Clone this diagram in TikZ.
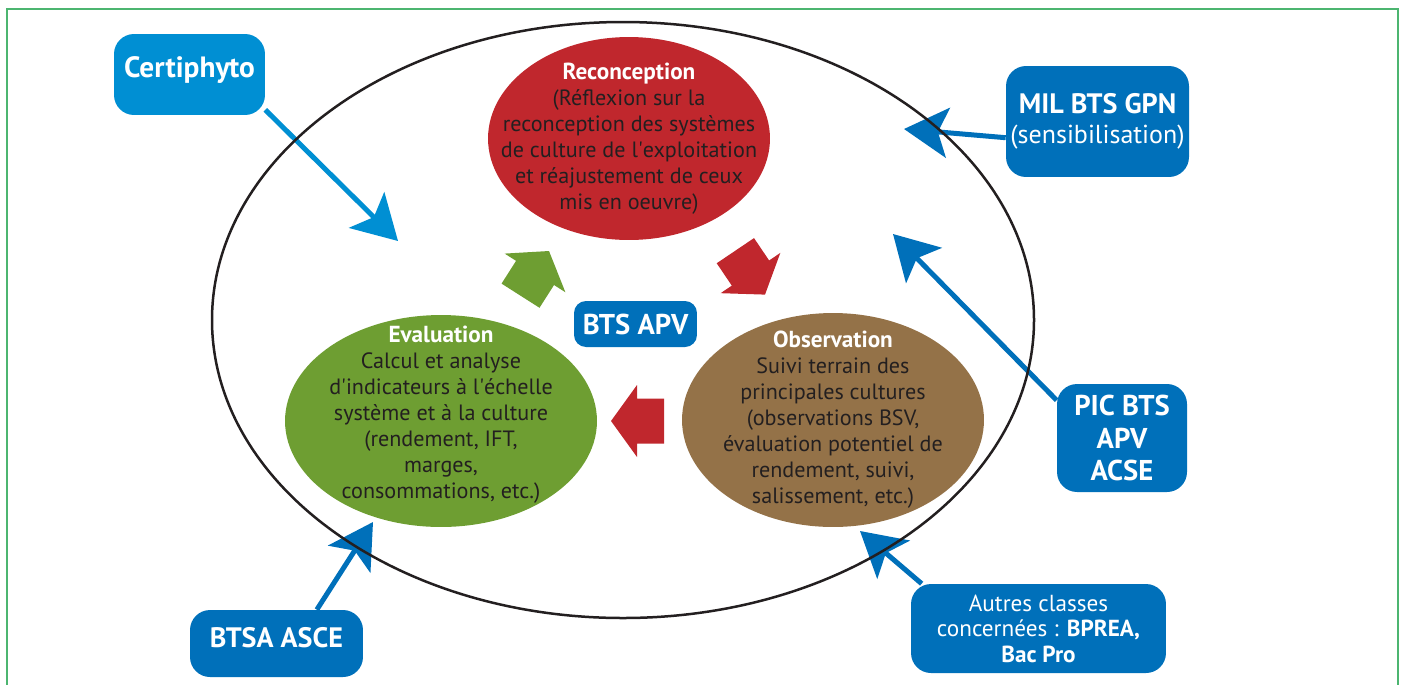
\documentclass[tikz,border=0pt]{standalone}
\usepackage{fontspec}
\setmainfont{PT Sans}
\usetikzlibrary{shapes.geometric,arrows.meta}
\pgfdeclarelayer{bg}
\pgfsetlayers{bg,main}
\definecolor{framegreen}{RGB}{76,181,112}
\definecolor{phasered}{RGB}{192,39,45}
\definecolor{phasegreen}{RGB}{110,158,50}
\definecolor{phasebrown}{RGB}{148,114,72}
\definecolor{boxblue}{RGB}{0,112,186}
\definecolor{certblue}{RGB}{0,143,211}
\definecolor{inktext}{RGB}{35,31,32}
\newcommand{\phasetitle}[1]{{\color{white}\bfseries\fontsize{13.2}{14.8}\selectfont #1}}

\begin{document}
\begin{tikzpicture}[x=0.02cm, y=-0.02cm,
    phase/.style={ellipse, inner sep=0pt},
    phasetext/.style={align=center, text=inktext, font=\fontsize{12.6}{14.8}\selectfont},
    classbox/.style={fill=boxblue, rounded corners=0.4cm, text=white, align=center, inner sep=0pt},
    feed/.style={boxblue, line width=0.1cm, -{Stealth[length=0.88cm, width=1cm, inset=0.2cm]}},
    cyclestep/.pic={\fill (0,0) -- (-26,36) -- (-26,22.5) -- (-53,22.5) -- (-53,-22.5) -- (-26,-22.5) -- (-26,-36) -- cycle;}]

    \useasboundingbox (0,0) rectangle (1402,684);
    \draw[framegreen, line width=0.03cm] (7,9) rectangle (1398,700);

    % the three phases
    \node[phase, fill=phasered, minimum width=5.64cm, minimum height=4.06cm] (reconc) at (629,138.5) {};
    \node[phasetext] (reconc-text) at (reconc) {\phasetitle{Reconception}\\(Réflexion sur la\\reconception des systèmes\\de culture de l\textquotesingle exploitation\\et réajustement de ceux\\mis en oeuvre)};
    \node[phase, fill=phasegreen, minimum width=6.24cm, minimum height=4.24cm] (eval) at (441,421) {};
    \node[phasetext] (eval-text) at (441,414.5) {\phasetitle{Evaluation}\\Calcul et analyse\\d\textquotesingle indicateurs à l\textquotesingle échelle\\système et à la culture\\(rendement, IFT,\\marges,\\consommations, etc.)};
    \node[phase, fill=phasebrown, minimum width=6.04cm, minimum height=4.28cm] (obs) at (833,420) {};
    \node[phasetext] (obs-text) at (obs) {\phasetitle{Observation}\\Suivi terrain des\\principales cultures\\(observations BSV,\\évaluation potentiel de\\rendement, suivi,\\salissement, etc.)};

    \pic[phasegreen, rotate=57.5] at (549,251) {cyclestep};
    \pic[phasered, rotate=-56] at (765,294.6) {cyclestep};
    \pic[phasered, rotate=180] at (611,421) {cyclestep};

    % classes
    \node[classbox, fill=certblue, minimum width=3.02cm, minimum height=1.62cm, text depth=0.3cm, font=\bfseries\fontsize{16.7}{18}\selectfont] (cert) at (189.5,74.5) {Certiphyto};
    \node[classbox, minimum width=3.66cm, minimum height=2.22cm, font=\fontsize{14.8}{17}\selectfont] (mil) at (1097.5,121.5) {{\bfseries\fontsize{16}{17}\selectfont MIL BTS GPN}\\(sensibilisation)};
    \node[classbox, minimum width=2.6cm, minimum height=2.16cm, font=\bfseries\fontsize{16.3}{18.5}\selectfont] (pic) at (1122,438) {PIC BTS\\APV\\ACSE};
    \node[classbox, minimum width=5.1cm, minimum height=1.78cm, font=\fontsize{13.2}{14.5}\selectfont] (autres) at (1038.5,628.5) {Autres classes\\concernées : \textbf{BPREA,}\\\textbf{Bac Pro}};
    \node[classbox, minimum width=3.46cm, minimum height=1.34cm, text depth=0.26cm, font=\bfseries\fontsize{16}{17}\selectfont] (btsa) at (276.5,643.5) {BTSA ASCE};
    \node[classbox, rounded corners=0.24cm, minimum width=2.46cm, minimum height=0.92cm, font=\bfseries\fontsize{16.3}{17}\selectfont] (apv) at (635.5,324) {BTS APV};

    \coordinate (certtip) at (398,241);
    \coordinate (miltip) at (904,129);
    \coordinate (pictip) at (893,234);
    \coordinate (autrestip) at (860,531);
    \coordinate (btsatip) at (373,522);

    \begin{pgfonlayer}{bg}
        \draw[feed, certblue] (cert.335) -- (certtip);
        \foreach \src/\dst in {mil.190/miltip, pic.150/pictip, autres.159/autrestip, btsa.40/btsatip}
            \draw[feed] (\src) -- (\dst);
    \end{pgfonlayer}

    \draw[line width=0.05cm, inktext] (623,320) ellipse [x radius=411, y radius=298];

\end{tikzpicture}
\end{document}
